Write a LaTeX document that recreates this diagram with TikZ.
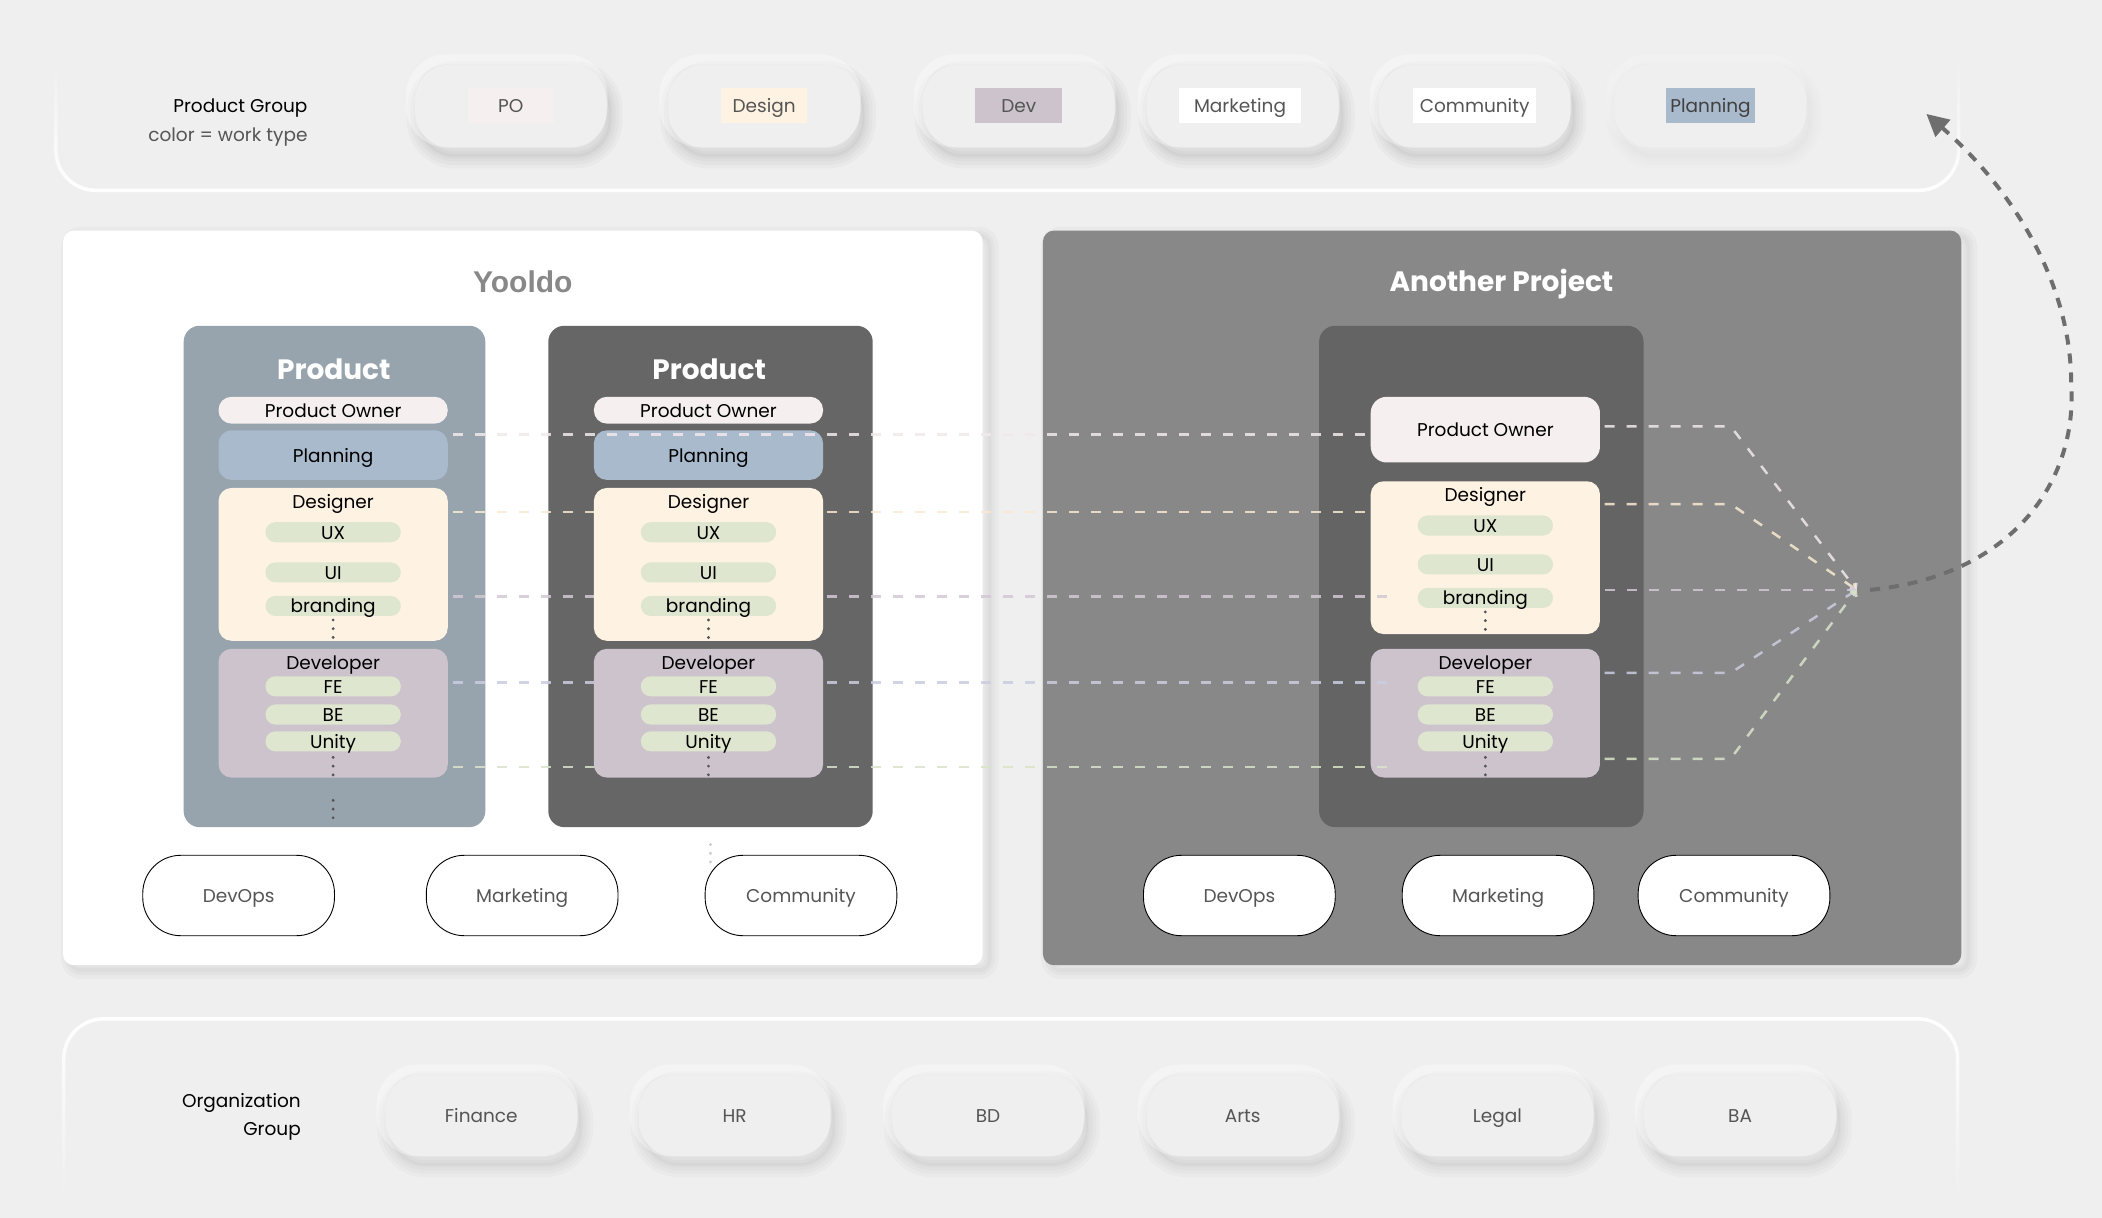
\documentclass[tikz,border=0pt]{standalone}
\usepackage{fontspec}
\setmainfont{Poppins}
\newfontfamily\yfont{Liberation Sans}
\usetikzlibrary{arrows.meta,calc,fadings}
\definecolor{bgc}{HTML}{EFEFEF}
\definecolor{poC}{HTML}{F5EFF0}
\definecolor{desC}{HTML}{FEF3E2}
\definecolor{devC}{HTML}{CCC3CC}
\definecolor{planC}{HTML}{A9BACC}
\definecolor{grnC}{HTML}{DFE6CF}
\definecolor{prodA}{HTML}{97A3AD}
\definecolor{prodB}{HTML}{666666}
\definecolor{anoC}{HTML}{888888}
\definecolor{txtG}{HTML}{555555}
\definecolor{arrC}{HTML}{6E6E6E}
\definecolor{lnA}{HTML}{F0E9EB}
\definecolor{lnB}{HTML}{F8EAD2}
\definecolor{lnC}{HTML}{D2C9D3}
\definecolor{lnD}{HTML}{CACDE0}
\definecolor{lnE}{HTML}{D9E3C9}
\tikzfading[name=fadeup, top color=transparent!100, bottom color=transparent!0]
\tikzfading[name=fadedown, top color=transparent!0, bottom color=transparent!100]
\tikzset{
  sz/.style 2 args={minimum width=#1*1.3406pt, minimum height=#2*1.3406pt, inner sep=0pt, outer sep=0pt},
  txt/.style={font=\fontsize{18.5}{20}\selectfont, text height=14pt, text depth=0pt},
  shd/.style={
    preaction={draw=black, draw opacity=0.022*#1, line width=24pt, transform canvas={xshift=4pt,yshift=-9pt}},
    preaction={draw=black, draw opacity=0.022*#1, line width=17pt, transform canvas={xshift=4pt,yshift=-9pt}},
    preaction={draw=black, draw opacity=0.022*#1, line width=10pt, transform canvas={xshift=4pt,yshift=-9pt}},
    preaction={draw=black, draw opacity=0.022*#1, line width=4pt, transform canvas={xshift=4pt,yshift=-9pt}},
    preaction={fill=black, fill opacity=0.022*#1, transform canvas={xshift=4pt,yshift=-9pt}},
    preaction={draw=white, draw opacity=0.35*#1, line width=10pt, transform canvas={xshift=-4pt,yshift=5pt}}},
  pshd/.style={
    preaction={draw=black, draw opacity=0.025, line width=18pt, transform canvas={xshift=7pt,yshift=-5pt}},
    preaction={draw=black, draw opacity=0.025, line width=10pt, transform canvas={xshift=7pt,yshift=-5pt}},
    preaction={draw=black, draw opacity=0.025, line width=4pt, transform canvas={xshift=7pt,yshift=-5pt}}},
  toppill/.style={shd=#1, fill=bgc, rounded corners=36pt, sz={143}{62}},
  lab/.style={sz={#1}{26}, txt, text=txtG},
  orgpill/.style={shd=0.9, fill=bgc, rounded corners=36pt, sz={143}{61}, txt, text=txtG},
  wpill/.style={draw=black, line width=0.9pt, fill=white, rounded corners=38pt, sz={143}{60}, txt, text=txtG},
  panel/.style={pshd, rounded corners=11pt},
  pbox/.style={rounded corners=16pt},
  ptitle/.style={font=\bfseries\fontsize{28}{30}\selectfont, text=white, text height=20.7pt, text depth=0pt},
  inbox/.style={rounded corners=13pt, sz={171}{#1}},
  gpill/.style={fill=grnC, rounded corners=10pt, sz={101}{15}, txt},
  lnk/.style={dash pattern=on 10pt off 12pt, line width=2.5pt, draw opacity=0.85},
  tipb/.style={-{Straight Barb[length=4pt,width=8pt]}}
}
\newcommand\mydots[3][txtG]{\fill[#1] (#2,#3) circle (1.6pt) (#2,#3+6.5) circle (1.6pt) (#2,#3+13) circle (1.6pt);}
\begin{document}
\begin{tikzpicture}[x=1.3406pt, y=-1.3406pt]
\useasboundingbox (0,0) rectangle (1568,908.5);
\fill[bgc] (0,0) rectangle (1568,908.5);

% group containers
\draw[white, line width=3.5pt, rounded corners=40pt, path fading=fadeup] (42,45) -- (42,142) -- (1462,142) -- (1462,45);
\draw[white, line width=3.5pt, rounded corners=40pt, path fading=fadedown] (48,895) -- (48,760) -- (1462,760) -- (1462,895);

% product group
\node[txt, anchor=east] (pgT) at (232,79) {Product Group};
\node[txt, anchor=east, text=txtG] (pgS) at (232,100) {color = work type};
\node[toppill=1] (tpPO) at (381,79) {};
\node[lab=64, fill=poC] (tlPO) at (381,79) {PO};
\node[toppill=1] (tpDe) at (570,79) {};
\node[lab=64, fill=desC] (tlDe) at (570,79) {Design};
\node[toppill=1] (tpDv) at (760,79) {};
\node[lab=65, fill=devC] (tlDv) at (760,79) {Dev};
\node[toppill=1] (tpMk) at (927,79) {};
\node[lab=91, fill=white] (tlMk) at (925,79) {Marketing};
\node[toppill=1] (tpCo) at (1100,79) {};
\node[lab=92, fill=white] (tlCo) at (1100,79) {Community};
\node[toppill=0.4] (tpPl) at (1276,79) {};
\node[lab=66, fill=planC, text=black!75] (tlPl) at (1276,79) {Planning};

% organization group
\node[txt, anchor=east] (ogA) at (227,821) {Organization};
\node[txt, anchor=east] (ogB) at (227,842) {Group};
\node[orgpill] (oFi) at (359,832) {Finance};
\node[orgpill] (oHR) at (548,832) {HR};
\node[orgpill] (oBD) at (737,832) {BD};
\node[orgpill] (oAr) at (927,832) {Arts};
\node[orgpill] (oLe) at (1117,832) {Legal};
\node[orgpill] (oBA) at (1298,832) {BA};

% panels
\node[panel, fill=white, sz={686}{548}] (yoo) at (390,446) {};
\node[font=\yfont\bfseries\fontsize{30}{32}\selectfont, text=anoC, text height=22pt, text depth=0pt] (yooT) at (390,210) {Yooldo};
\node[panel, fill=anoC, sz={685}{548}] (ano) at (1120.5,446) {};
\node[ptitle] (anoT) at (1120,210) {Another Project};

% product boxes
\node[pbox, fill=prodA, sz={225}{374}] (p1) at (249.5,430) {};
\node[ptitle] (p1T) at (249,275) {Product};
\node[pbox, fill=prodB, sz={242}{374}] (p2) at (530,430) {};
\node[ptitle] (p2T) at (529,275) {Product};
\node[pbox, fill=prodB!98!black, sz={242}{374}] (pa) at (1105,430) {};

% another project inner
\node[inbox={49}, fill=poC, rounded corners=16pt, txt] (apo) at (1108,320.5) {Product Owner};
\node[inbox={114}, fill=desC] (ades) at (1108,416) {};
\node[txt] (adesT) at (1108,369) {Designer};
\node[gpill] (aux) at (1108,392) {UX};
\node[gpill] (aui) at (1108,421) {UI};
\node[gpill] (abr) at (1108,446) {branding};
\mydots{1108}{456.5}
\node[inbox={96}, fill=devC] (adev) at (1108,532) {};
\node[txt] (adevT) at (1108,494) {Developer};
\node[gpill] (afe) at (1108,512) {FE};
\node[gpill] (abe) at (1108,533) {BE};
\node[gpill] (aun) at (1108,553) {Unity};
\mydots{1108}{565}

% dashed links (left part)
\coordinate (L1) at (338,324);
\coordinate (L2) at (338,382);
\coordinate (L3) at (338,445);
\coordinate (L4) at (338,509);
\coordinate (L5) at (338,572);
\coordinate (E3) at (1040,445);
\coordinate (E4) at (1040,509);
\coordinate (E5) at (1040,572);
\draw[lnk, lnB] (L2) -- (L2 -| ades.west);
\draw[lnk, lnC] (L3) -- (E3);
\draw[lnk, lnD] (L4) -- (E4);
\draw[lnk, lnE] (L5) -- (E5);

% dashed links (right part)
\coordinate (hub) at (1385,440);
\coordinate (R1) at (1197,318);
\coordinate (R2) at (1197,376);
\coordinate (R3) at (1197,440);
\coordinate (R4) at (1197,502);
\coordinate (R5) at (1197,566);
\coordinate (K1) at (1291,318);
\coordinate (K2) at (1291,376);
\coordinate (K4) at (1291,502);
\coordinate (K5) at (1291,566);
\draw[lnk, lnA, tipb] (R1) -- (K1) -- (hub);
\draw[lnk, lnB, tipb] (R2) -- (K2) -- (hub);
\draw[lnk, lnC, tipb] (R3) -- (hub);
\draw[lnk, lnD, tipb] (R4) -- (K4) -- (hub);
\draw[lnk, lnE, tipb] (R5) -- (K5) -- (hub);

% product box 1 inner
\node[inbox={20}, fill=poC, rounded corners=13pt, txt] (b1po) at (248.5,306) {Product Owner};
\node[inbox={37}, fill=planC, txt] (b1pl) at (248.5,339.5) {Planning};
\node[inbox={114}, fill=desC] (b1des) at (248.5,421) {};
\node[txt] (b1desT) at (248.5,374) {Designer};
\node[gpill] (b1ux) at (248.5,397) {UX};
\node[gpill] (b1ui) at (248.5,427) {UI};
\node[gpill] (b1br) at (248.5,452) {branding};
\mydots{248.5}{462.5}
\node[inbox={96}, fill=devC] (b1dev) at (248.5,532) {};
\node[txt] (b1devT) at (248.5,494) {Developer};
\node[gpill] (b1fe) at (248.5,512) {FE};
\node[gpill] (b1be) at (248.5,533) {BE};
\node[gpill] (b1un) at (248.5,553) {Unity};
\mydots{248.5}{565}
\mydots{248.5}{597}

% product box 2 inner
\node[inbox={20}, fill=poC, rounded corners=13pt, txt] (b2po) at (528.5,306) {Product Owner};
\node[inbox={37}, fill=planC, txt] (b2pl) at (528.5,339.5) {Planning};
\node[inbox={114}, fill=desC] (b2des) at (528.5,421) {};
\node[txt] (b2desT) at (528.5,374) {Designer};
\node[gpill] (b2ux) at (528.5,397) {UX};
\node[gpill] (b2ui) at (528.5,427) {UI};
\node[gpill] (b2br) at (528.5,452) {branding};
\mydots{528.5}{462.5}
\node[inbox={96}, fill=devC] (b2dev) at (528.5,532) {};
\node[txt] (b2devT) at (528.5,494) {Developer};
\node[gpill] (b2fe) at (528.5,512) {FE};
\node[gpill] (b2be) at (528.5,533) {BE};
\node[gpill] (b2un) at (528.5,553) {Unity};
\mydots{528.5}{565}
\mydots[black!20]{530}{630}

% first link on top
\draw[lnk, lnA] (L1) -- (L1 -| apo.west);

% bottom pills
\node[wpill] (yDO) at (178,668) {DevOps};
\node[wpill] (yMk) at (389.5,668) {Marketing};
\node[wpill] (yCo) at (597.5,668) {Community};
\node[wpill] (aDO) at (924.5,668) {DevOps};
\node[wpill] (aMk) at (1117.5,668) {Marketing};
\node[wpill] (aCo) at (1293.5,668) {Community};

% big return arrow
\coordinate (hubB) at (1395,440);
\coordinate (bend) at (1545,286);
\coordinate (tip) at (1437,85);
\draw[arrC, line width=4pt, dash pattern=on 10pt off 9pt, -{Triangle[length=22pt,width=22pt]}]
  (hubB) .. controls (1500,430) and (1550,360) .. (bend) .. controls (1545,210) and (1500,140) .. (tip);
\end{tikzpicture}
\end{document}
